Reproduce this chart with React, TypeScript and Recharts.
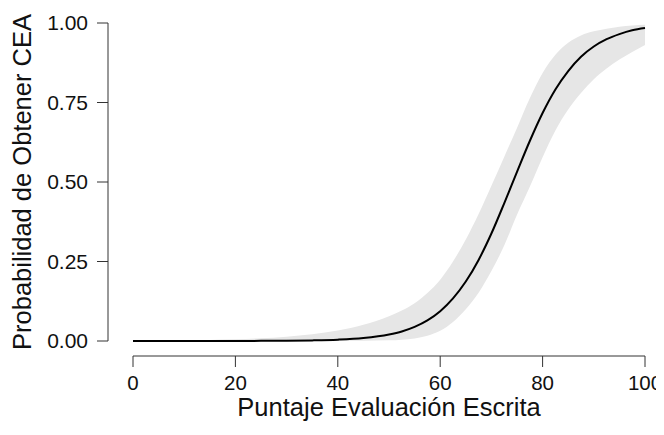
import React from 'react';
import { ComposedChart, Area, Line, XAxis, YAxis } from 'recharts';

const scores = [0, 5, 10, 15, 20, 25, 30, 35, 40, 45, 50, 52.5, 55, 57.5, 60, 62.5, 65, 67.5, 70, 72.5, 75, 77.5, 80, 82.5, 85, 87.5, 90, 92.5, 95, 97.5, 100];
const fitted = [0.00001, 0.00002, 0.00003, 0.00008, 0.00017, 0.0004, 0.00085, 0.0019, 0.0042, 0.0093, 0.0204, 0.03, 0.0444, 0.0647, 0.0936, 0.134, 0.187, 0.255, 0.338, 0.433, 0.532, 0.629, 0.717, 0.791, 0.849, 0.894, 0.926, 0.949, 0.965, 0.977, 0.984];
const lower = [0, 0, 0, 0, 0, 0, 0, 0, 0.0001, 0.0006, 0.002, 0.004, 0.008, 0.0166, 0.032, 0.06, 0.1, 0.152, 0.22, 0.3, 0.397, 0.485, 0.578, 0.662, 0.728, 0.78, 0.823, 0.857, 0.885, 0.909, 0.931];
const upper = [0.0009, 0.0014, 0.0022, 0.0035, 0.0055, 0.0087, 0.0137, 0.0213, 0.033, 0.051, 0.078, 0.096, 0.119, 0.151, 0.193, 0.25, 0.319, 0.399, 0.488, 0.579, 0.67, 0.763, 0.843, 0.9, 0.938, 0.961, 0.974, 0.982, 0.988, 0.992, 0.9945];

const xTicks = [0, 20, 40, 60, 80, 100];
const yTicks = [0, 0.25, 0.5, 0.75, 1];
const xTitle = 'Puntaje Evaluación Escrita';
const yTitle = 'Probabilidad de Obtener CEA';

const data = scores.map((s, i) => ({ score: s, prob: fitted[i], band: [lower[i], upper[i]] }));

const FONT = '"Liberation Sans", Arial, Helvetica, sans-serif';

export default function App() {
  return (
    <div style={{ margin: -8, width: 664, height: 435, background: '#ffffff' }}>
      <ComposedChart width={664} height={435} data={data} margin={{ top: 23, right: 19, bottom: 0, left: 0 }}>
        <XAxis xAxisId="gap" dataKey="score" type="number" domain={[0, 100]} height={15} axisLine={false} tickLine={false} tick={false} />
        <XAxis
          xAxisId="main"
          dataKey="score"
          type="number"
          domain={[0, 100]}
          ticks={xTicks}
          height={79}
          interval={0}
          stroke="#333"
          tickSize={11}
          tickMargin={8}
          tick={{ fill: '#111', fontSize: 20.5, fontFamily: FONT }}
          label={{ value: xTitle, position: 'insideBottom', offset: 19, fill: '#111', fontSize: 25.5, fontFamily: FONT }}
        />
        <YAxis yAxisId="gap" type="number" domain={[0, 1]} width={25} axisLine={false} tickLine={false} tick={false} />
        <YAxis
          yAxisId="main"
          type="number"
          domain={[0, 1]}
          ticks={yTicks}
          width={108}
          interval={0}
          stroke="#333"
          tickSize={11}
          tickMargin={9}
          tickFormatter={(v: number) => v.toFixed(2)}
          tick={{ fill: '#111', fontSize: 21, fontFamily: FONT }}
          label={{ value: yTitle, angle: -90, position: 'insideLeft', offset: 22, fill: '#111', fontSize: 25.5, fontFamily: FONT, style: { textAnchor: 'middle' } }}
        />
        <Area
          xAxisId="main"
          yAxisId="main"
          dataKey="band"
          type="monotone"
          stroke="none"
          fill="#e6e6e6"
          fillOpacity={1}
          isAnimationActive={false}
        />
        <Line
          xAxisId="main"
          yAxisId="main"
          dataKey="prob"
          type="monotone"
          stroke="#000"
          strokeWidth={2}
          dot={false}
          isAnimationActive={false}
        />
      </ComposedChart>
    </div>
  );
}
